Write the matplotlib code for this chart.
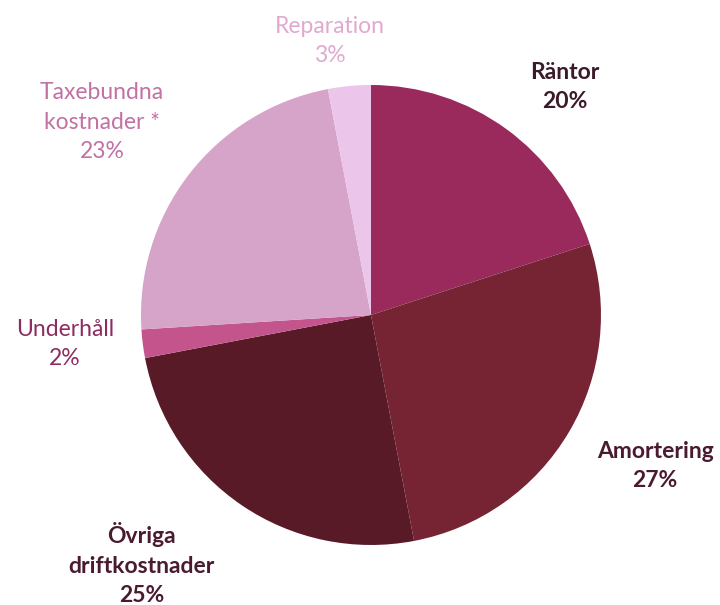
import matplotlib.pyplot as plt

labels = ["Räntor", "Amortering", "Övriga\ndriftkostnader", "Underhåll",
          "Taxebundna\nkostnader *", "Reparation"]
shares = [20, 27, 25, 2, 23, 3]

colors = ["#9b2a5c", "#762433", "#591a27", "#c4548c", "#d6a3c9", "#ecc6ea"]
text_colors = ["#3b1a2a", "#4a1a30", "#4a1a30", "#8e2c60", "#c271a3", "#e2a9d0"]
bold = [True, True, True, False, False, False]
# label centres in data units (pie radius = 1)
label_pos = [(0.843, 0.991), (1.235, -0.657), (-0.996, -1.083), (-1.330, -0.126),
             (-1.170, 0.839), (-0.178, 1.191)]

plt.rcParams["font.family"] = ["Lato", "DejaVu Sans"]

fig = plt.figure(figsize=(7.2, 6.05), dpi=100)
ax = fig.add_axes([0.1958, 0.0992, 0.6389, 0.7603])
ax.pie(shares, colors=colors, startangle=90, counterclock=False, radius=1,
       wedgeprops=dict(linewidth=0))
ax.set_xlim(-1, 1)
ax.set_ylim(-1, 1)
ax.set_aspect("equal")
ax.axis("off")

for lab, v, (x, y), c, b in zip(labels, shares, label_pos, text_colors, bold):
    ax.text(x, y, f"{lab}\n{v}%", ha="center", va="center", color=c,
            fontsize=16.5, fontweight="bold" if b else "normal",
            linespacing=1.5, clip_on=False)

fig.savefig("out.png", dpi=100)
